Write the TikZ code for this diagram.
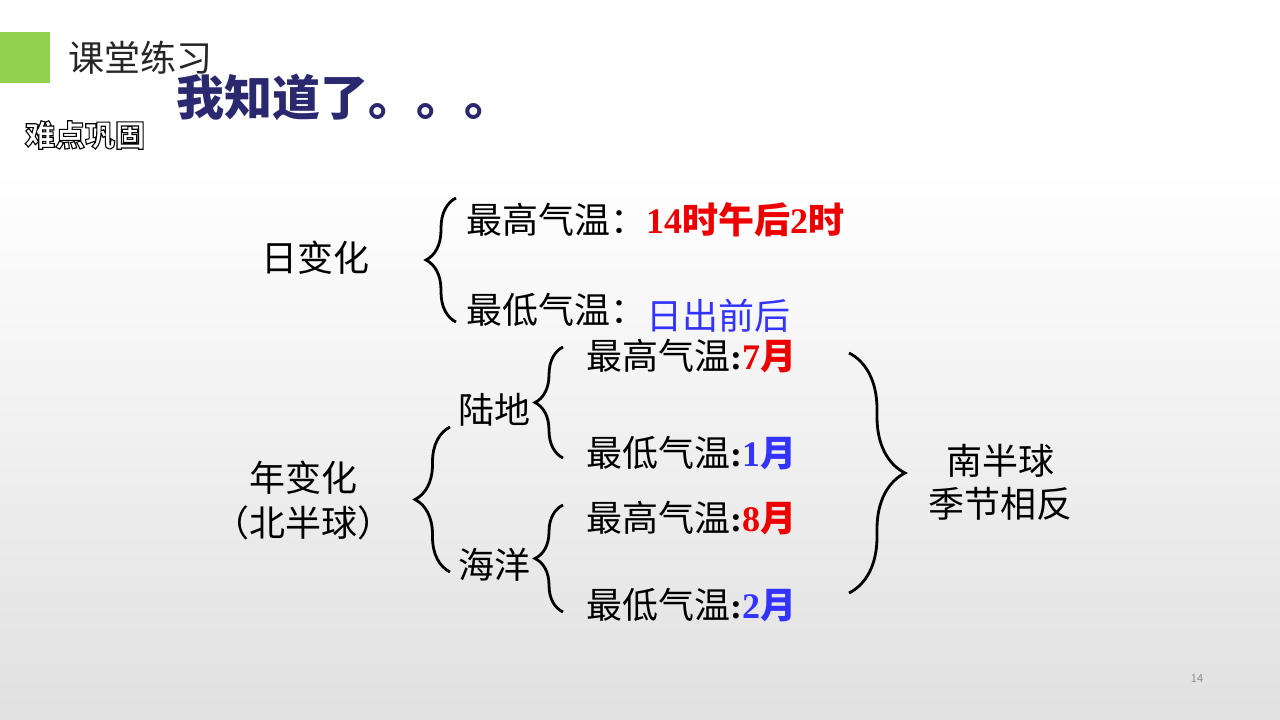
\documentclass[tikz,border=0pt]{standalone}
\usepackage{fontspec}
\setmainfont{Noto Sans CJK SC}
\newfontfamily\numfont{Liberation Serif}
\usetikzlibrary{decorations.pathreplacing,positioning}
\definecolor{leaf}{RGB}{146,208,80}
\definecolor{navy}{RGB}{42,41,112}
\definecolor{hot}{RGB}{238,0,0}
\definecolor{cold}{RGB}{51,51,255}
\newcommand{\dig}[1]{{\numfont\bfseries #1}}
\newcommand{\hollow}[1]{\special{pdf:literal direct 2 Tr 1.1 w 0 G}#1\special{pdf:literal direct 0 Tr}}

\begin{document}
\begin{tikzpicture}[x=1pt,y=-1pt]
    \tikzset{
        txt/.style={inner sep=0pt, font=\fontsize{36}{43}\selectfont},
        bigbrace/.style={line width=2.8pt, decorate, decoration={brace, amplitude=#1}},
    }
    \useasboundingbox (0,0) rectangle (1280,720);
    \fill[white] (0,0) rectangle (1280,170);
    \shade[top color=white, bottom color=black!12] (0,170) rectangle (1280,720);
    \fill[leaf] (0,32) rectangle (50,83);
    \node[txt, anchor=west, text=black!85] (title) at (68,58) {课堂练习};
    \node[anchor=west, inner sep=0pt, font=\fontsize{48}{52}\selectfont\bfseries, text=navy] (know) at (176,97) {我知道了。。。};
    \node[font=\fontsize{30}{34}\selectfont\bfseries, inner sep=0pt, text=white] (hard) at (85,135) {\hollow{难点巩固}};

    \node[txt] (day) at (315,258) {日变化};
    \node[txt, anchor=west] (dayHigh) at (466,220) {最高气温：{\color{hot}\bfseries\dig{14}时午后\dig{2}时}};
    \node[txt, anchor=west] (dayLow) at (466,310) {最低气温：};
    \node[txt, anchor=west, text=cold] (dayLowVal) at ([yshift=-6pt]dayLow.east) {日出前后};
    \coordinate (d1) at (456,322);
    \coordinate (d2) at (456,198);
    \draw[bigbrace=30pt] (d1) -- (d2);

    \node[txt] (year) at (303,478) {年变化};
    \node[txt] (north) at (303,523) {（北半球）};
    \node[txt, anchor=west] (land) at (458,410) {陆地};
    \node[txt, anchor=west] (sea) at (458,565) {海洋};
    \coordinate (y1) at (450,572);
    \coordinate (y2) at (450,427);
    \draw[bigbrace=35pt] (y1) -- (y2);

    \node[txt, anchor=west] (landHigh) at (586,356) {最高气温\dig{:}{\color{hot}\bfseries\dig{7}月}};
    \node[txt, anchor=west] (landLow) at (586,453) {最低气温\dig{:}{\color{cold}\bfseries\dig{1}月}};
    \node[txt, anchor=west] (seaHigh) at (586,518) {最高气温\dig{:}{\color{hot}\bfseries\dig{8}月}};
    \node[txt, anchor=west] (seaLow) at (586,605) {最低气温\dig{:}{\color{cold}\bfseries\dig{2}月}};
    \coordinate (l1) at (563,458);
    \coordinate (l2) at (563,347);
    \draw[bigbrace=28pt] (l1) -- (l2);
    \coordinate (s1) at (563,612);
    \coordinate (s2) at (563,505);
    \draw[bigbrace=28pt] (s1) -- (s2);

    \node[txt, align=center] (south) at (1000,482) {南半球\\季节相反};
    \coordinate (r1) at (849,353);
    \coordinate (r2) at (849,593);
    \draw[bigbrace=56pt] (r1) -- (r2);

    \node[font=\fontsize{11}{13}\selectfont, text=black!45, inner sep=0pt] (page) at (1197,679) {14};
\end{tikzpicture}
\end{document}
